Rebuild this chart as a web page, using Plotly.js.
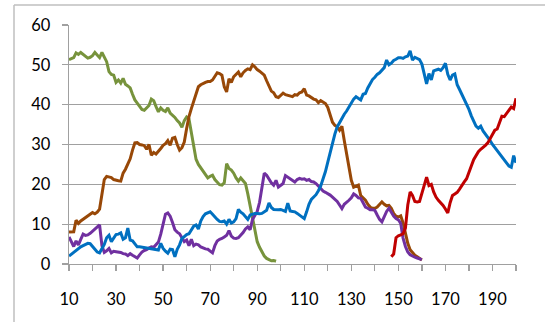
<!DOCTYPE html>
<html>
<head>
<meta charset="utf-8">
<script src="https://cdn.plot.ly/plotly-3.0.1.min.js"></script>
<style>
html,body{margin:0;padding:0;background:#fff;}
#chart{width:545px;height:322px;}
</style>
</head>
<body>
<div id="chart"></div>
<script>
// ---- data ----
const greenStart = 10;
const greenValues = [51.3,51.5,51.8,53.0,52.6,53.1,52.7,52.2,51.7,51.9,52.3,53.1,52.3,51.8,53.1,52.0,50.8,48.3,47.6,47.4,
45.6,46.2,45.4,46.6,45.1,44.7,44.2,42.6,41.2,40.4,39.6,38.8,38.6,39.2,39.8,41.4,41.0,39.5,38.2,39.2,
38.6,38.3,39.2,37.9,37.4,36.8,36.0,35.4,34.3,36.0,36.9,36.4,33.0,29.5,26.3,25.0,24.2,23.5,22.5,21.6,
22.0,22.3,21.2,20.6,19.9,19.8,20.4,25.2,24.0,23.6,22.8,21.6,20.8,21.6,21.0,20.2,17.6,14.5,11.0,7.8,
5.6,4.2,3.0,2.0,1.4,1.0,0.8,0.9,0.7];

const brownStart = 10;
const brownValues = [8.0,8.0,8.1,11.0,10.2,10.8,11.2,11.6,12.0,12.6,12.9,12.6,13.0,13.8,17.0,21.2,22.0,21.9,21.7,21.2,
21.0,20.9,20.8,22.8,23.8,25.0,26.4,28.6,30.4,30.5,30.0,29.9,29.7,28.8,30.0,27.3,28.0,27.6,28.2,29.0,
29.8,30.2,31.0,29.8,31.6,31.8,30.0,28.6,29.2,30.6,34.0,37.0,39.0,41.0,42.6,44.5,45.0,45.4,45.6,45.8,
45.8,46.2,47.2,48.0,47.8,47.4,44.5,43.2,46.5,45.6,47.0,47.5,48.2,47.0,48.0,48.6,49.0,48.8,50.0,49.5,
48.8,48.4,48.0,47.4,46.0,44.6,43.4,43.0,42.0,41.8,42.4,42.9,42.5,42.3,42.2,42.0,42.5,42.4,43.0,43.2,
44.0,42.4,42.2,41.7,41.4,41.2,40.5,41.0,40.6,40.3,39.3,37.6,35.6,34.8,34.5,33.6,34.6,31.0,27.5,24.0,
21.0,19.3,19.6,19.8,17.2,16.5,16.0,15.0,14.3,14.0,14.0,14.3,15.0,15.6,15.0,14.6,14.7,14.0,12.7,12.0,
11.8,12.1,10.3,7.8,5.2,3.6,2.8,2.2,1.8,1.4,1.0];

const purpleStart = 10;
const purpleValues = [6.8,5.6,4.4,5.8,4.8,6.2,7.5,7.2,7.3,7.7,8.2,8.8,9.3,9.8,4.6,2.9,3.3,3.9,2.8,3.2,
3.1,3.0,2.9,2.6,2.5,2.1,2.6,2.2,1.8,1.5,2.3,3.0,3.4,3.6,4.0,4.3,4.2,4.8,5.5,7.5,
10.4,12.5,12.8,12.0,10.4,8.6,8.0,7.6,6.6,5.6,6.0,4.6,6.2,4.6,5.0,4.8,4.3,4.0,3.8,3.7,
3.2,2.8,4.6,5.8,6.2,6.4,6.8,7.2,8.4,7.0,6.5,6.4,6.6,7.2,7.9,8.8,9.3,8.6,11.2,12.2,
13.2,15.5,19.5,22.8,22.3,21.3,20.4,19.8,21.0,19.3,19.8,20.2,22.2,21.8,21.4,21.0,20.6,21.2,21.5,21.3,
21.4,21.0,21.2,20.7,20.6,20.2,19.6,18.8,18.3,18.0,17.7,17.3,16.8,16.2,15.7,14.8,13.9,15.0,15.4,16.0,
16.6,17.6,17.2,16.6,16.5,15.4,14.3,14.0,13.6,13.6,13.5,12.3,11.2,10.6,11.9,13.2,14.0,13.0,12.0,11.4,
11.1,10.2,6.5,4.4,3.0,2.3,1.9,1.7,1.5,1.3,1.1];

const blueStart = 10;
const blueValues = [2.0,2.5,3.0,3.4,3.9,4.3,4.6,4.9,5.2,5.1,4.4,3.6,3.0,2.8,3.8,4.9,6.6,7.2,5.6,6.4,
7.4,7.5,7.8,6.2,6.6,9.0,6.0,5.8,5.0,4.3,4.3,4.2,4.0,3.9,3.8,3.8,3.7,3.6,3.5,5.2,
3.9,3.2,2.7,3.7,3.6,1.8,3.7,4.8,6.4,6.9,7.4,7.6,8.6,9.5,9.8,8.8,10.8,11.9,12.6,12.9,
13.1,12.5,11.8,11.2,10.7,10.6,10.8,10.0,11.2,10.3,10.6,11.4,13.7,13.0,12.6,11.8,11.2,12.3,12.6,12.7,
12.7,12.6,12.7,13.0,13.5,15.3,14.2,13.7,13.6,13.6,13.7,13.4,13.2,15.3,13.3,13.2,13.1,12.7,12.2,11.7,
11.4,13.1,15.0,16.2,16.8,17.4,18.4,19.6,21.4,23.2,25.6,28.0,30.2,32.6,34.4,35.5,36.6,37.6,38.4,39.4,
40.4,41.4,42.0,41.6,41.2,42.6,42.8,44.2,45.4,46.3,46.9,47.6,48.0,48.6,49.3,51.2,50.0,50.4,51.1,51.4,
51.8,51.8,51.6,52.0,52.2,53.5,51.2,51.9,51.6,51.3,50.2,47.5,45.2,47.8,46.2,48.5,48.8,48.9,48.6,49.3,
50.4,47.6,46.2,47.4,47.7,45.0,43.8,42.6,41.4,40.2,38.8,37.2,35.8,34.6,34.1,34.6,33.4,32.6,32.0,31.0,
30.0,29.2,28.5,27.6,27.0,26.3,25.4,24.6,24.3,27.2,25.4];

const redStart = 147;
const redValues = [1.8,2.5,6.6,7.1,7.3,7.6,9.0,14.8,18.1,17.2,15.7,15.6,15.7,17.8,20.3,21.8,19.7,20.0,18.1,16.8,
16.0,15.4,14.7,13.8,12.8,15.4,17.2,17.6,18.0,18.8,19.8,20.6,21.4,22.8,24.6,26.2,27.4,28.2,28.8,29.2,
29.8,30.4,31.4,32.6,33.6,33.9,35.6,37.1,37.0,37.8,38.4,39.4,39.0,41.6];

const xTickVals = [10,20,30,40,50,60,70,80,90,100,110,120,130,140,150,160,170,180,190,200];
const xTickText = ['10','','30','','50','','70','','90','','110','','130','','150','','170','','190',''];
const yTickVals = [0,10,20,30,40,50,60];

// ---- build traces ----
function xs(start, n){ const a=[]; for(let i=0;i<n;i++) a.push(start+i); return a; }
function tr(start, vals, color){
  return {x: xs(start, vals.length), y: vals, type:'scatter', mode:'lines',
          line:{color:color, width:3}, hoverinfo:'skip', showlegend:false};
}
const data = [
  tr(greenStart, greenValues, '#77933C'),
  tr(brownStart, brownValues, '#984807'),
  tr(purpleStart, purpleValues, '#7030A0'),
  tr(blueStart, blueValues, '#0070C0'),
  tr(redStart, redValues, '#C00000')
];

const gridCol = '#a0a0a0';
const layout = {
  width:545, height:322,
  margin:{l:69, r:29, t:25, b:58, pad:0},
  paper_bgcolor:'#ffffff', plot_bgcolor:'#ffffff',
  font:{family:'Lato, "Open Sans", sans-serif', size:16.5, color:'#000000'},
  showlegend:false,
  xaxis:{range:[10,200], tickmode:'array', tickvals:xTickVals, ticktext:xTickText,
         showgrid:false, zeroline:false, showline:true, linecolor:gridCol, linewidth:1.3,
         ticks:'outside', ticklen:6, tickwidth:1.3, tickcolor:gridCol,
         ticklabelstandoff:14, fixedrange:true},
  yaxis:{range:[0,60], tickmode:'array', tickvals:yTickVals,
         showgrid:true, gridcolor:gridCol, gridwidth:1.3, zeroline:false,
         showline:true, linecolor:gridCol, linewidth:1.3,
         ticks:'outside', ticklen:6, tickwidth:1.3, tickcolor:gridCol,
         ticklabelstandoff:8, fixedrange:true},
  shapes:[
    {type:'line', xref:'paper', yref:'paper', x0:(14-69)/447, x1:(560-69)/447, y0:1+(25-5)/239, y1:1+(25-5)/239,
     line:{color:'#bfbfbf', width:1.5}},
    {type:'line', xref:'paper', yref:'paper', x0:(14-69)/447, x1:(14-69)/447, y0:1+(25-5)/239, y1:(264-340)/239,
     line:{color:'#bfbfbf', width:1.5}}
  ]
};
Plotly.newPlot('chart', data, layout, {staticPlot:true, displayModeBar:false});
</script>
</body>
</html>
